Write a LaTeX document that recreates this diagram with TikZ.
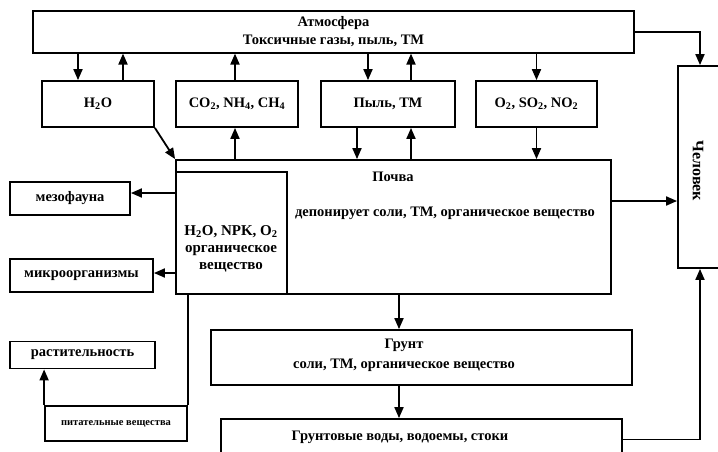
\documentclass[tikz,border=0pt]{standalone}
\usepackage{fontspec}
\setmainfont{Liberation Serif}
\usetikzlibrary{arrows.meta}
\begin{document}
\begin{tikzpicture}[x=1pt,y=-1pt,line width=1.8pt,
  box/.style={draw,rectangle,inner sep=0pt,align=center,font=\bfseries\fontsize{14.5}{18}\selectfont},
  lbl/.style={inner sep=0pt,align=center,font=\bfseries\fontsize{14.5}{18}\selectfont},
  tiny/.style={inner sep=0pt,font=\bfseries\fontsize{10.5}{11}\selectfont},
  arr/.style={-{Triangle[length=11pt,width=9pt]}}]
\useasboundingbox (0,0) rectangle (718,451);
\clip (0,0) rectangle (718,451);
\fill[white] (0,0) rectangle (718,451);
% coordinates
\coordinate (ym) at (0,193);
\coordinate (yk) at (0,273);
\coordinate (ys) at (0,201);
\coordinate (xg) at (399,0);
% top
\node[box,line width=1.1pt,minimum width=601pt,minimum height=42pt] (atm) at (333.5,32) {Атмосфера\\Токсичные газы, пыль, ТМ};
\node[box,minimum width=112pt,minimum height=46pt] (h2o) at (98,104) {H\textsubscript{2}O};
\node[box,minimum width=122pt,minimum height=46pt] (co2) at (237,104) {CO\textsubscript{2}, NH\textsubscript{4}, CH\textsubscript{4}};
\node[box,minimum width=134pt,minimum height=46pt] (pyl) at (388,104) {Пыль, ТМ};
\node[box,minimum width=121pt,minimum height=46pt] (o2) at (536.5,104) {O\textsubscript{2}, SO\textsubscript{2}, NO\textsubscript{2}};
% human
\node[box,minimum width=44pt,minimum height=202pt] (chel) at (700,167) {};
\node[lbl,rotate=-90,font=\bfseries\fontsize{16}{18}\selectfont] (chelt) at (698,171) {Человек};
% soil
\node[box,minimum width=435pt,minimum height=134pt] (soil) at (393.5,227) {};
\node[box,minimum width=111pt,minimum height=122pt] (inner) at (231.5,233) {};
\node[lbl] (pochva) at (393,177) {Почва};
\node[lbl] (dep) at (445,213) {депонирует соли, ТМ, органическое вещество};
\node[lbl,font=\bfseries\fontsize{15}{17}\selectfont] (innert) at (231,249) {H\textsubscript{2}O, NPK, O\textsubscript{2}\\органическое\\вещество};
% left
\node[box,minimum width=120pt,minimum height=33pt] (mezo) at (70,198.5) {мезофауна};
\node[box,minimum width=143pt,minimum height=33pt] (mikro) at (81.5,275.5) {микроорганизмы};
\node[box,minimum width=145pt,minimum height=27pt] (rast) at (82.5,355) {растительность};
\node[box,minimum width=142pt,minimum height=35pt] (pit) at (116,423.5) {};
\node[tiny] (pitt) at (116,424) {питательные вещества};
% lower
\node[box,minimum width=421pt,minimum height=55pt] (grunt) at (421.5,357.5) {};
\node[lbl,font=\bfseries\fontsize{14.5}{20}\selectfont] (gruntt) at (404,355) {Грунт\\соли, ТМ, органическое вещество};
\node[box,minimum width=401pt,minimum height=41pt] (gw) at (421.5,439.5) {};
\node[lbl] (gwt) at (400,437) {Грунтовые воды, водоемы, стоки};
% arrows top
\draw[arr] ([xshift=-20pt]h2o.north |- atm.south) -- ([xshift=-20pt]h2o.north);
\draw[arr] ([xshift=25pt]h2o.north) -- ([xshift=25pt]h2o.north |- atm.south);
\draw[arr] ([xshift=-2pt]co2.north) -- ([xshift=-2pt]co2.north |- atm.south);
\draw[arr] ([xshift=-20pt]pyl.north |- atm.south) -- ([xshift=-20pt]pyl.north);
\draw[arr] ([xshift=23pt]pyl.north) -- ([xshift=23pt]pyl.north |- atm.south);
\draw[arr] (o2.north |- atm.south) -- (o2.north);
\draw[arr] (atm.east) -| (chel.north);
% arrows middle
\draw[arr] (h2o.south east) -- (soil.north west);
\draw[arr] ([xshift=-2pt]co2.south |- soil.north) -- ([xshift=-2pt]co2.south);
\draw[arr] ([xshift=-31pt]pyl.south) -- ([xshift=-31pt]pyl.south |- soil.north);
\draw[arr] ([xshift=23pt]pyl.south |- soil.north) -- ([xshift=23pt]pyl.south);
\draw[arr] (o2.south) -- (o2.south |- soil.north);
\draw[arr] (soil.east |- ys) -- (chel.west |- ys);
\draw[arr] (inner.west |- ym) -- (mezo.east |- ym);
\draw[arr] (inner.west |- yk) -- (mikro.east |- yk);
\draw (inner.south -| pit.east) -- (pit.north east);
\draw[arr] (pit.north west) -- (rast.south -| pit.west);
% arrows lower
\draw[arr] (soil.south -| xg) -- (grunt.north -| xg);
\draw[arr] (grunt.south -| xg) -- (gw.north -| xg);
\draw[arr] (gw.east) -| (chel.south);
\end{tikzpicture}
\end{document}
